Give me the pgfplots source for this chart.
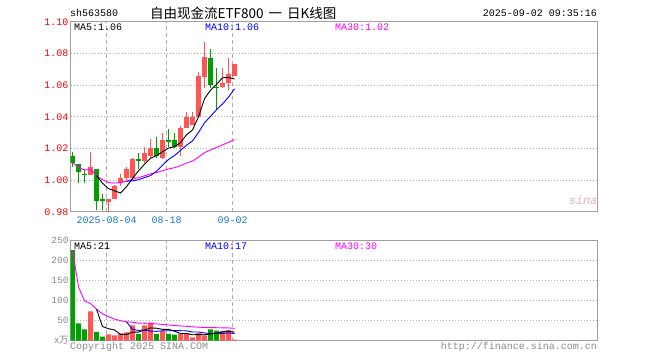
\documentclass[border=0pt]{standalone}
\usepackage{pgfplots}
\pgfplotsset{compat=1.18}
\usepackage{pgfplotstable}
\usepackage{fontspec}
\setmainfont{Liberation Mono}
\newfontfamily\cjk{Noto Sans CJK SC}
\definecolor{cred}{RGB}{255,85,85}
\definecolor{cgreen}{RGB}{0,160,0}
\definecolor{framec}{RGB}{160,160,160}
\definecolor{gridc}{RGB}{175,175,175}
\definecolor{xlab}{RGB}{20,120,210}
\definecolor{maten}{RGB}{0,0,255}
\definecolor{mathirty}{RGB}{255,0,255}
\definecolor{graytxt}{RGB}{140,140,140}

% x open close high low
\pgfplotstableread{
x o c h l
4 1.003 1.008 1.018 1.003
7 0.986 0.988 0.988 0.980
8 0.988 0.996 0.997 0.988
9 0.998 1.001 1.004 0.996
10 1.001 1.007 1.008 1.000
11 1.001 1.013 1.014 1.000
13 1.012 1.017 1.021 1.011
14 1.015 1.020 1.026 1.014
16 1.014 1.025 1.030 1.013
19 1.021 1.033 1.034 1.015
20 1.033 1.040 1.043 1.033
21 1.035 1.040 1.043 1.035
22 1.040 1.066 1.068 1.040
23 1.065 1.078 1.087 1.058
26 1.059 1.061 1.071 1.058
27 1.061 1.067 1.077 1.057
28 1.066 1.073 1.073 1.066
}\redtab
\pgfplotstableread{
x o c h l
1 1.015 1.011 1.018 1.008
2 1.010 1.005 1.010 0.998
3 1.004 1.003 1.007 0.998
5 1.007 0.987 1.007 0.981
6 0.988 0.987 0.991 0.981
12 1.013 1.012 1.017 1.007
15 1.020 1.015 1.027 1.014
17 1.025 1.024 1.032 1.021
18 1.025 1.021 1.030 1.020
24 1.077 1.060 1.083 1.058
25 1.059 1.058 1.071 1.045
}\greentab
\pgfplotstableread{
x v
4 73
7 16
8 13
9 18
10 21
11 38
13 38
14 45
16 24
19 17
20 17
21 8
22 19
23 13
26 24
27 26
28 3
}\volred
\pgfplotstableread{
x v
1 225
2 43
3 28
5 22
6 10
12 17
15 17
17 17
18 15
24 28
25 25
}\volgreen

\begin{document}
\begin{tikzpicture}[x=1pt,y=1pt]
\useasboundingbox (0,0) rectangle (660,-360);
\fill[white] (0,0) rectangle (660,-360);

% ---------- price panel ----------
\begin{axis}[
  at={(70.7pt,-211.7pt)}, anchor=south west,
  width=526.3pt, height=190pt, scale only axis,
  xmin=0.7, xmax=88.4, ymin=0.98, ymax=1.10,
  axis line style={framec, line width=1pt},
  major tick length=0pt,
  ytick={0.98,1.00,1.02,1.04,1.06,1.08,1.10},
  yticklabels={0.98,1.00,1.02,1.04,1.06,1.08,1.10},
  yticklabel style={text=red, font=\fontsize{10}{12}\selectfont, inner sep=2pt},
  xtick={6.67,16.67,27.67},
  xticklabels={2025-08-04,08-18,09-02},
  xticklabel style={text=xlab, font=\fontsize{10}{12}\selectfont, inner sep=4.5pt},
  xmajorgrids, ymajorgrids,
  x grid style={gridc, dash pattern=on 4pt off 3pt, line width=1pt},
  y grid style={gridc, dash pattern=on 1pt off 2pt, line width=1pt},
]
% wicks
\addplot[draw=none, no markers, error bars/.cd, y dir=plus, y explicit, error mark=none,
  error bar style={draw=cred, line width=1pt}]
  table[x=x, y=l, y error expr=\thisrow{h}-\thisrow{l}] {\redtab};
\addplot[draw=none, no markers, error bars/.cd, y dir=plus, y explicit, error mark=none,
  error bar style={draw=cgreen, line width=1pt}]
  table[x=x, y=l, y error expr=\thisrow{h}-\thisrow{l}] {\greentab};
% bodies
\addplot[draw=none, no markers, error bars/.cd, y dir=plus, y explicit, error mark=none,
  error bar style={draw=cred, line width=5pt}]
  table[x=x, y=o, y error expr=\thisrow{c}-\thisrow{o}] {\redtab};
\addplot[draw=none, no markers, error bars/.cd, y dir=plus, y explicit, error mark=none,
  error bar style={draw=cgreen, line width=5pt}]
  table[x=x, y=c, y error expr=\thisrow{o}-\thisrow{c}] {\greentab};
% MA30
\addplot[mathirty, line width=0.9pt] coordinates {
(1,1.0110)(2,1.0080)(3,1.0063)(4,1.0068)(5,1.0028)(6,1.0002)(7,0.9984)(8,0.9981)
(9,0.9984)(10,0.9993)(11,1.0005)(12,1.0015)(13,1.0027)(14,1.0039)(15,1.0047)
(16,1.0059)(17,1.0070)(18,1.0078)(19,1.0091)(20,1.0107)(21,1.0120)(22,1.0145)
(23,1.0173)(24,1.0190)(25,1.0206)(26,1.0222)(27,1.0238)(28,1.0256)};
% MA10
\addplot[maten, line width=0.9pt] coordinates {
(10,0.9993)(11,0.9995)(12,1.0002)(13,1.0016)(14,1.0028)(15,1.0056)(16,1.0094)
(17,1.0130)(18,1.0155)(19,1.0187)(20,1.0220)(21,1.0247)(22,1.0301)(23,1.0362)
(24,1.0402)(25,1.0445)(26,1.0481)(27,1.0524)(28,1.0576)};
% MA5
\addplot[black, line width=0.9pt] coordinates {
(5,1.0028)(6,0.9980)(7,0.9946)(8,0.9932)(9,0.9918)(10,0.9958)(11,1.0010)(12,1.0058)
(13,1.0100)(14,1.0138)(15,1.0154)(16,1.0178)(17,1.0202)(18,1.0210)(19,1.0236)
(20,1.0286)(21,1.0316)(22,1.0400)(23,1.0514)(24,1.0568)(25,1.0604)(26,1.0646)
(27,1.0648)(28,1.0638)};
\end{axis}

% ---------- volume panel ----------
\begin{axis}[
  at={(70.7pt,-340.7pt)}, anchor=south west,
  width=526.3pt, height=100.7pt, scale only axis,
  xmin=0.7, xmax=88.4, ymin=0, ymax=250,
  axis line style={framec, line width=1pt},
  major tick length=0pt,
  ytick={0,50,100,150,200,250},
  yticklabels={{\cjk x万},50,100,150,200,250},
  yticklabel style={text=graytxt, font=\fontsize{9.5}{11}\selectfont, inner sep=2pt},
  xtick={6.67,16.67,27.67},
  xticklabels={},
  xmajorgrids, ymajorgrids,
  x grid style={gridc, dash pattern=on 4pt off 3pt, line width=1pt},
  y grid style={gridc, dash pattern=on 1pt off 2pt, line width=1pt},
]
\addplot[ybar, bar width=5pt, bar shift=0pt, fill=cred, draw=none] table[x=x, y=v] {\volred};
\addplot[ybar, bar width=5pt, bar shift=0pt, fill=cgreen, draw=none] table[x=x, y=v] {\volgreen};
\addplot[mathirty, line width=0.9pt] coordinates {
(1,225)(2,134)(3,98.7)(4,92.3)(5,78.2)(6,66.8)(7,59.6)(8,53.75)(9,49.8)(10,46.9)
(11,46.1)(12,43.7)(13,43.2)(14,43.4)(15,41.6)(16,40.5)(17,39.1)(18,37.8)(19,36.7)
(20,35.7)(21,34.4)(22,33.7)(23,32.8)(24,32.6)(25,32.3)(26,32.0)(27,31.7)(28,30.7)};
\addplot[maten, line width=0.9pt] coordinates {
(10,46.9)(11,28.2)(12,25.6)(13,26.6)(14,23.8)(15,23.3)(16,24.7)(17,24.8)(18,25.0)
(19,24.9)(20,24.5)(21,21.5)(22,21.7)(23,19.2)(24,17.5)(25,18.3)(26,18.3)(27,19.2)(28,18.0)};
\addplot[black, line width=0.9pt] coordinates {
(5,78.2)(6,35.2)(7,29.8)(8,26.8)(9,15.8)(10,15.6)(11,21.2)(12,21.4)(13,26.4)(14,31.8)
(15,31.0)(16,28.2)(17,28.2)(18,23.6)(19,18.0)(20,18.0)(21,14.8)(22,15.2)(23,14.8)
(24,17.0)(25,18.6)(26,21.8)(27,23.2)(28,21.2)};
\end{axis}

% ---------- texts ----------
\begin{scope}[every node/.style={inner sep=0pt, font=\fontsize{10}{12}\selectfont}]
\node[anchor=west] at (70,-13) {sh563580};
\node[anchor=west, font=\cjk\fontsize{13.5}{15}\selectfont] at (150,-13) {自由现金流ETF800\hspace{5pt}一\hspace{5pt}日K线图};
\node[anchor=east] at (597,-13) {2025-09-02 09:35:16};
\node[anchor=west] at (74,-27.5) {MA5:1.06};
\node[anchor=west, text=maten] at (205,-27.5) {MA10:1.06};
\node[anchor=west, text=mathirty] at (335,-27.5) {MA30:1.02};
\node[anchor=west] at (74,-246.5) {MA5:21};
\node[anchor=west, text=maten] at (205,-246.5) {MA10:17};
\node[anchor=west, text=mathirty] at (335,-246.5) {MA30:30};
\node[anchor=west, text=graytxt] at (70,-347) {Copyright 2025 SINA.COM};
\node[anchor=east, text=graytxt] at (597,-347) {http://finance.sina.com.cn};
\node[text={rgb,255:red,235;green,200;blue,200}, font=\fontsize{12}{12}\selectfont\bfseries\itshape] at (583,-200) {sina};
\end{scope}
\end{tikzpicture}
\end{document}
